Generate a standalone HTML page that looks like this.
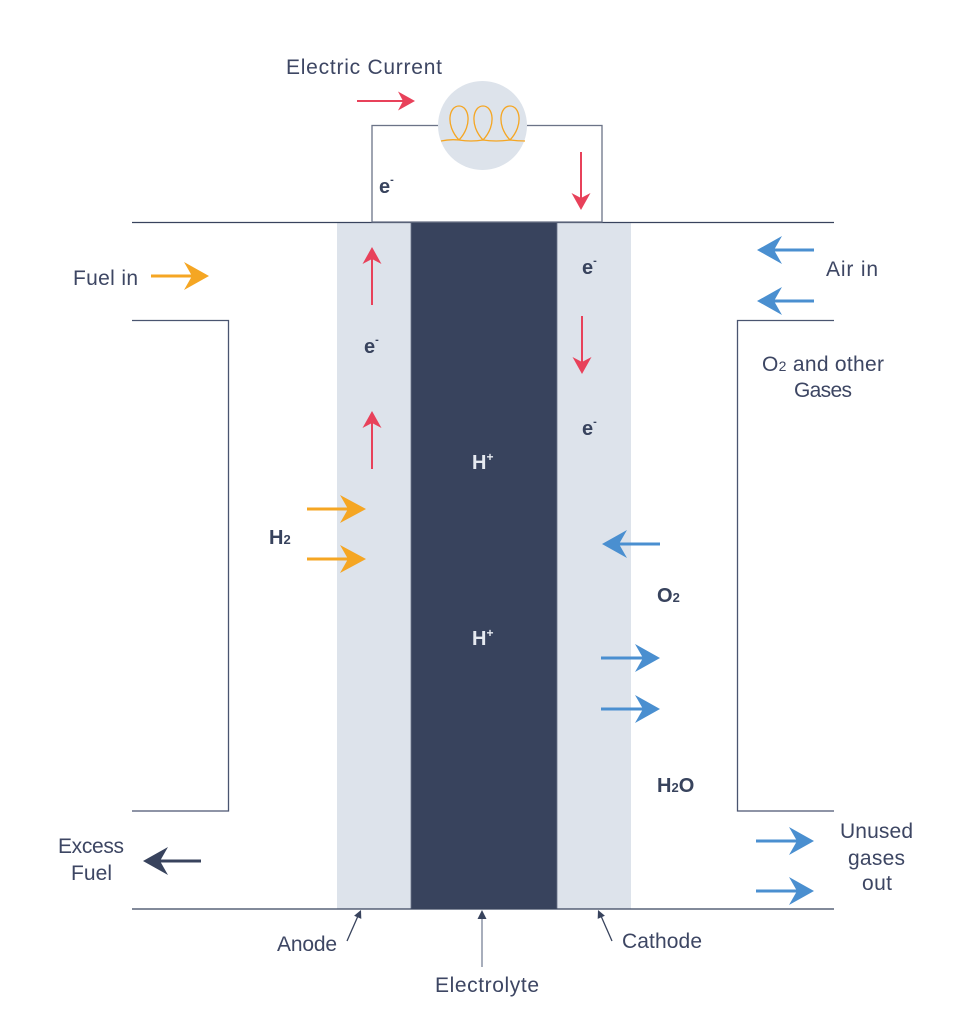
<!DOCTYPE html>
<html><head><meta charset="utf-8"><style>
html,body{margin:0;padding:0;background:#fff;}
svg{display:block;}
text{font-family:"Liberation Sans",Arial,sans-serif;fill:#3d4663;}
.t{font-size:21px;}
.b{font-size:20px;font-weight:bold;fill:#38435d;}
.w{font-size:20px;font-weight:bold;fill:#e6eaf0;}
</style></head><body>
<svg width="960" height="1025" viewBox="0 0 960 1025" xmlns="http://www.w3.org/2000/svg">
<!-- columns -->
<rect x="337" y="222" width="74" height="687" fill="#dde3eb"/>
<rect x="411" y="222" width="146" height="687" fill="#38435d"/>
<rect x="557" y="222" width="74" height="687" fill="#dde3eb"/>
<line x1="411" y1="222" x2="411" y2="909" stroke="#6a7389" stroke-width="0.8"/>
<line x1="557" y1="222" x2="557" y2="909" stroke="#6a7389" stroke-width="0.8"/>

<!-- top and bottom lines -->
<line x1="132" y1="222.5" x2="834" y2="222.5" stroke="#38435d" stroke-width="1.3"/>
<line x1="132" y1="909" x2="834" y2="909" stroke="#38435d" stroke-width="1.3"/>

<!-- circuit -->
<rect x="372" y="125.5" width="230" height="96.5" fill="none" stroke="#6b7387" stroke-width="1.3"/>
<circle cx="482.5" cy="125.5" r="44.5" fill="#dde3eb"/>
<g fill="none" stroke="#f5a623" stroke-width="1.3">
<path d="M459,140 C445,125 449,106 459,106 C469,106 473,125 459,140"/>
<path d="M483,140 C469,125 473,106 483,106 C493,106 497,125 483,140"/>
<path d="M510,140 C496,125 500,106 510,106 C520,106 524,125 510,140"/>
<path d="M441,141 Q450,139 459,140 Q471,142 483,140 Q496,142 510,140 Q518,141 525,141"/>
</g>

<!-- side boxes -->
<polyline points="132,320.5 228.5,320.5 228.5,811 132,811" fill="none" stroke="#4a5570" stroke-width="1.3"/>
<polyline points="834,320.5 737.5,320.5 737.5,811 834,811" fill="none" stroke="#4a5570" stroke-width="1.3"/>

<!-- red arrows -->
<g stroke="#e8415a" stroke-width="2" fill="#e8415a">
<line x1="357" y1="101" x2="404" y2="101"/>
<polygon stroke="none" points="415,101 398,91.5 403,101 398,110.5"/>
<line x1="581" y1="152" x2="581" y2="199"/>
<polygon stroke="none" points="581,210 571.5,193 581,198 590.5,193"/>
<line x1="582" y1="316" x2="582" y2="363"/>
<polygon stroke="none" points="582,374 572.5,357 582,362 591.5,357"/>
<line x1="372" y1="305" x2="372" y2="258"/>
<polygon stroke="none" points="372,247 362.5,264 372,259 381.5,264"/>
<line x1="372" y1="469" x2="372" y2="422"/>
<polygon stroke="none" points="372,411 362.5,428 372,423 381.5,428"/>
</g>

<!-- orange arrows -->
<g stroke="#f5a623" stroke-width="3" fill="#f5a623">
<line x1="151" y1="276" x2="196" y2="276"/>
<polygon stroke="none" points="209,276 184,262 192,276 184,290"/>
<line x1="307" y1="509" x2="353" y2="509"/>
<polygon stroke="none" points="366,509 340,495 348,509 340,523"/>
<line x1="307" y1="559" x2="353" y2="559"/>
<polygon stroke="none" points="366,559 340,545 348,559 340,573"/>
</g>

<!-- blue arrows -->
<g stroke="#4a8fd0" stroke-width="3" fill="#4a8fd0">
<line x1="814" y1="250" x2="770" y2="250"/>
<polygon stroke="none" points="757,250 782,236 774,250 782,264"/>
<line x1="814" y1="301" x2="770" y2="301"/>
<polygon stroke="none" points="757,301 782,287 774,301 782,315"/>
<line x1="660" y1="544" x2="615" y2="544"/>
<polygon stroke="none" points="602,544 627,530 619,544 627,558"/>
<line x1="601" y1="658" x2="647" y2="658"/>
<polygon stroke="none" points="660,658 635,644 643,658 635,672"/>
<line x1="601" y1="709" x2="647" y2="709"/>
<polygon stroke="none" points="660,709 635,695 643,709 635,723"/>
<line x1="756" y1="841" x2="801" y2="841"/>
<polygon stroke="none" points="814,841 789,827 797,841 789,855"/>
<line x1="756" y1="891" x2="801" y2="891"/>
<polygon stroke="none" points="814,891 789,877 797,891 789,905"/>
</g>

<!-- dark excess arrow -->
<g stroke="#38435d" stroke-width="3" fill="#38435d">
<line x1="201" y1="861" x2="156" y2="861"/>
<polygon stroke="none" points="143,861 168,847 160,861 168,875"/>
</g>

<!-- pointer arrows -->
<g stroke="#38435d" stroke-width="1.3" fill="#38435d">
<line x1="347" y1="941" x2="358" y2="916"/>
<polygon stroke="none" points="361,910 361.3,918.9 354.1,915.7"/>
<line x1="612" y1="941" x2="601" y2="916"/>
<polygon stroke="none" points="598,910 604.9,915.7 597.7,918.9"/>
</g>
<line x1="482" y1="967" x2="482" y2="916" stroke="#8a92a6" stroke-width="1.5"/>
<polygon points="482,910 477.5,919 486.5,919" fill="#38435d"/>

<!-- plain labels -->
<text class="t" x="286" y="74" textLength="156" lengthAdjust="spacing">Electric Current</text>
<text class="t" x="73" y="285" textLength="65" lengthAdjust="spacing">Fuel in</text>
<text class="t" x="826" y="276" textLength="52" lengthAdjust="spacing">Air in</text>
<text class="t" x="762" y="371" textLength="122" lengthAdjust="spacing">O<tspan font-size="14">2</tspan> and other</text>
<text class="t" x="794" y="397" textLength="58" lengthAdjust="spacing">Gases</text>
<text class="t" x="58" y="853" textLength="66" lengthAdjust="spacing">Excess</text>
<text class="t" x="71" y="880" textLength="41" lengthAdjust="spacing">Fuel</text>
<text class="t" x="840" y="838" textLength="73" lengthAdjust="spacing">Unused</text>
<text class="t" x="848" y="865" textLength="57" lengthAdjust="spacing">gases</text>
<text class="t" x="862" y="890" textLength="30" lengthAdjust="spacing">out</text>
<text class="t" x="277" y="951" textLength="60" lengthAdjust="spacing">Anode</text>
<text class="t" x="435" y="992" textLength="104" lengthAdjust="spacing">Electrolyte</text>
<text class="t" x="622" y="948" textLength="80" lengthAdjust="spacing">Cathode</text>

<!-- bold labels -->
<text class="b" x="379" y="193">e<tspan font-size="11" dy="-10">-</tspan></text>
<text class="b" x="364" y="353">e<tspan font-size="11" dy="-10">-</tspan></text>
<text class="b" x="582" y="274">e<tspan font-size="11" dy="-10">-</tspan></text>
<text class="b" x="582" y="435">e<tspan font-size="11" dy="-10">-</tspan></text>
<text class="b" x="269" y="544">H<tspan font-size="13">2</tspan></text>
<text class="b" x="657" y="602">O<tspan font-size="13">2</tspan></text>
<text class="b" x="657" y="792">H<tspan font-size="13">2</tspan>O</text>
<text class="w" x="472" y="469">H<tspan font-size="12" dy="-8">+</tspan></text>
<text class="w" x="472" y="645">H<tspan font-size="12" dy="-8">+</tspan></text>
</svg>
</body></html>
